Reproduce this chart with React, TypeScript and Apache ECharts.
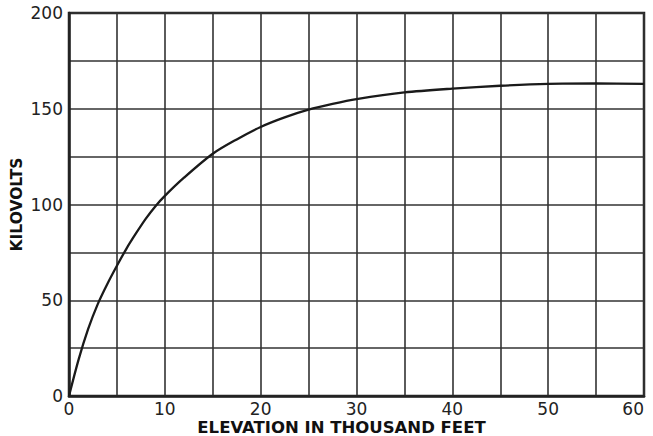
import React, { useEffect, useRef } from "react";
import * as echarts from "echarts";

const elevation = [0, 1, 2, 3, 4, 5, 6, 7, 8, 9, 10, 12, 15, 17.5, 20, 22.5, 25, 27.5, 30, 35, 40, 45, 50, 55, 60];
const kilovolts = [0, 19, 35, 48, 58.5, 68, 77, 85, 92.5, 99, 104.5, 114, 126.5, 134, 140.5, 145.5, 149.5, 152.5, 155, 158.5, 160.5, 162, 163, 163.2, 163];

const xTitle = "ELEVATION IN THOUSAND FEET";
const yTitle = "KILOVOLTS";

export default function App() {
  const ref = useRef<HTMLDivElement>(null);
  useEffect(() => {
    if (!ref.current) return;
    const chart = echarts.init(ref.current, undefined, { renderer: "svg" });
    const gridLine = { show: true, lineStyle: { color: "#333", width: 1.6 } };
    const labelStyle = {
      fontFamily: "DejaVu Sans",
      fontSize: 17,
      color: "#222",
      margin: 6,
    };
    chart.setOption({
      animation: false,
      backgroundColor: "#fff",
      grid: {
        left: 69,
        right: 9,
        top: 13,
        bottom: 40,
        outerBoundsMode: "none",
        containLabel: false,
        show: true,
        borderColor: "#222",
        borderWidth: 2.5,
        backgroundColor: "transparent",
      },
      xAxis: {
        type: "value",
        min: 0,
        max: 60,
        interval: 10,
        name: xTitle,
        nameLocation: "middle",
        nameGap: 24,
        nameMoveOverlap: false,
        nameTextStyle: {
          fontFamily: "DejaVu Sans",
          fontWeight: "bold",
          fontSize: 16.5,
          lineHeight: 14,
          color: "#111",
          padding: [0, 30, 0, 0],
        },
        axisLine: { show: true, lineStyle: { color: "#222", width: 2.5 } },
        axisTick: { show: false },
        minorTick: { show: false, splitNumber: 2 },
        splitLine: gridLine,
        minorSplitLine: gridLine,
        axisLabel: { ...labelStyle, margin: 4, alignMaxLabel: "right" },
      },
      yAxis: {
        type: "value",
        min: 0,
        max: 200,
        interval: 50,
        name: yTitle,
        nameLocation: "middle",
        nameGap: 44,
        nameRotate: 90,
        nameMoveOverlap: false,
        nameTextStyle: {
          fontFamily: "DejaVu Sans",
          fontWeight: "bold",
          fontSize: 15.5,
          color: "#111",
        },
        axisLine: { show: true, lineStyle: { color: "#222", width: 2.5 } },
        axisTick: { show: false },
        minorTick: { show: false, splitNumber: 2 },
        splitLine: gridLine,
        minorSplitLine: gridLine,
        axisLabel: labelStyle,
      },
      series: [
        {
          type: "line",
          data: elevation.map((x, i) => [x, kilovolts[i]]),
          smooth: 0.3,
          showSymbol: false,
          lineStyle: { color: "#1a1a1a", width: 2.3 },
        },
      ],
    });
    return () => chart.dispose();
  }, []);
  return <div ref={ref} style={{ width: 653, height: 436, position: "absolute", left: 0, top: 0 }} />;
}
